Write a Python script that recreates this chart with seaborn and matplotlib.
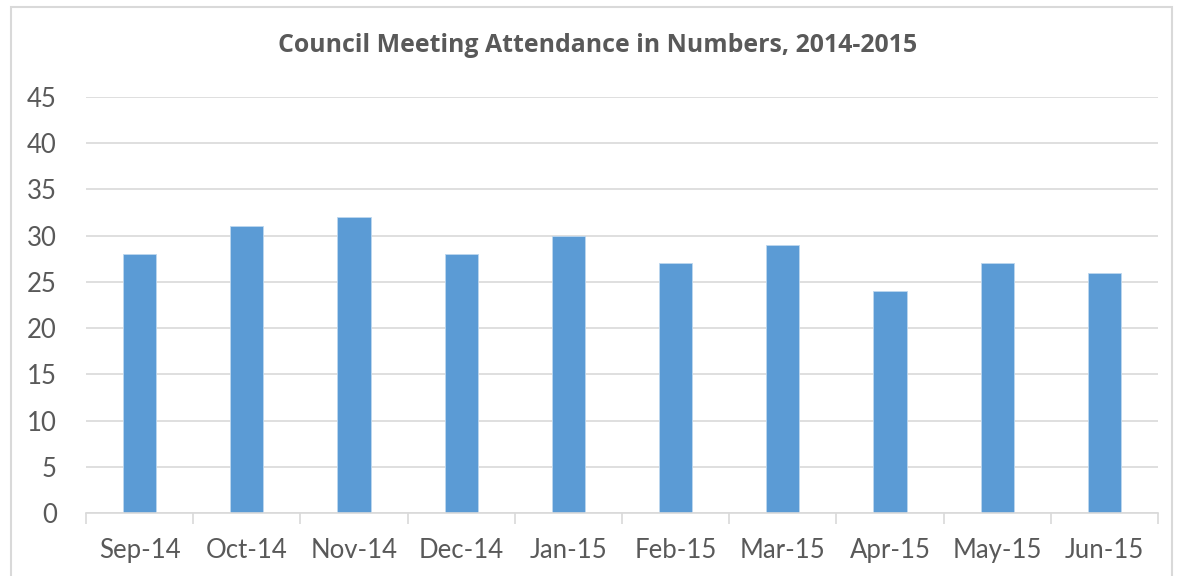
import matplotlib
matplotlib.use("Agg")
import matplotlib.pyplot as plt
import seaborn as sns
import pandas as pd
import numpy as np
from matplotlib.patches import Rectangle
from matplotlib.ticker import FixedLocator

months = ["Sep-14", "Oct-14", "Nov-14", "Dec-14", "Jan-15", "Feb-15", "Mar-15", "Apr-15", "May-15", "Jun-15"]
attendance = [28, 31, 32, 28, 30, 27, 29, 24, 27, 26]
title = "Council Meeting Attendance in Numbers, 2014-2015"

sns.set_theme(style="white")
plt.rcParams['font.family'] = ['Lato', 'DejaVu Sans']

df = pd.DataFrame({"Month": months, "Attendance": attendance})

fig = plt.figure(figsize=(11.77, 5.76), dpi=100)
ax = fig.add_axes([86/1177, 63/576, 1072/1177, 416/576])

sns.barplot(data=df, x="Month", y="Attendance", color="#5b9bd5", saturation=1,
            width=0.31, ax=ax, edgecolor="#bdd7ee", linewidth=0.6)

ax.set_xlim(-0.5, len(months) - 0.5)
ax.set_ylim(0, 45)
ax.set_yticks(np.arange(0, 46, 5))
ax.yaxis.grid(True, color="#d9d9d9", linewidth=1.2)
ax.set_axisbelow(True)
for s in ["top", "right", "left"]:
    ax.spines[s].set_visible(False)
ax.spines["bottom"].set_color("#d9d9d9")
ax.spines["bottom"].set_linewidth(1.2)

ax.xaxis.set_minor_locator(FixedLocator(np.arange(-0.5, len(months), 1.0)))
ax.tick_params(axis="x", which="minor", length=8, width=1.2, color="#d9d9d9", bottom=True)
ax.tick_params(axis="x", which="major", length=0, pad=18, labelsize=18.5, labelcolor="#595959")
ax.tick_params(axis="y", length=0, pad=21, labelsize=18.5, labelcolor="#595959")
ax.set_xlabel("")
ax.set_ylabel("")

fig.text(598/1177, 1 - 45/576, title, ha="center", va="center",
         fontsize=17.9, fontweight="bold", color="#595959",
         family=["Open Sans", "DejaVu Sans"])

fig.patches.append(Rectangle((11/1177, -0.05), (1172-11)/1177, 1.05 - 7/576,
                             transform=fig.transFigure, fill=False,
                             edgecolor="#d9d9d9", linewidth=1.5))

fig.savefig("out.png", dpi=100)
